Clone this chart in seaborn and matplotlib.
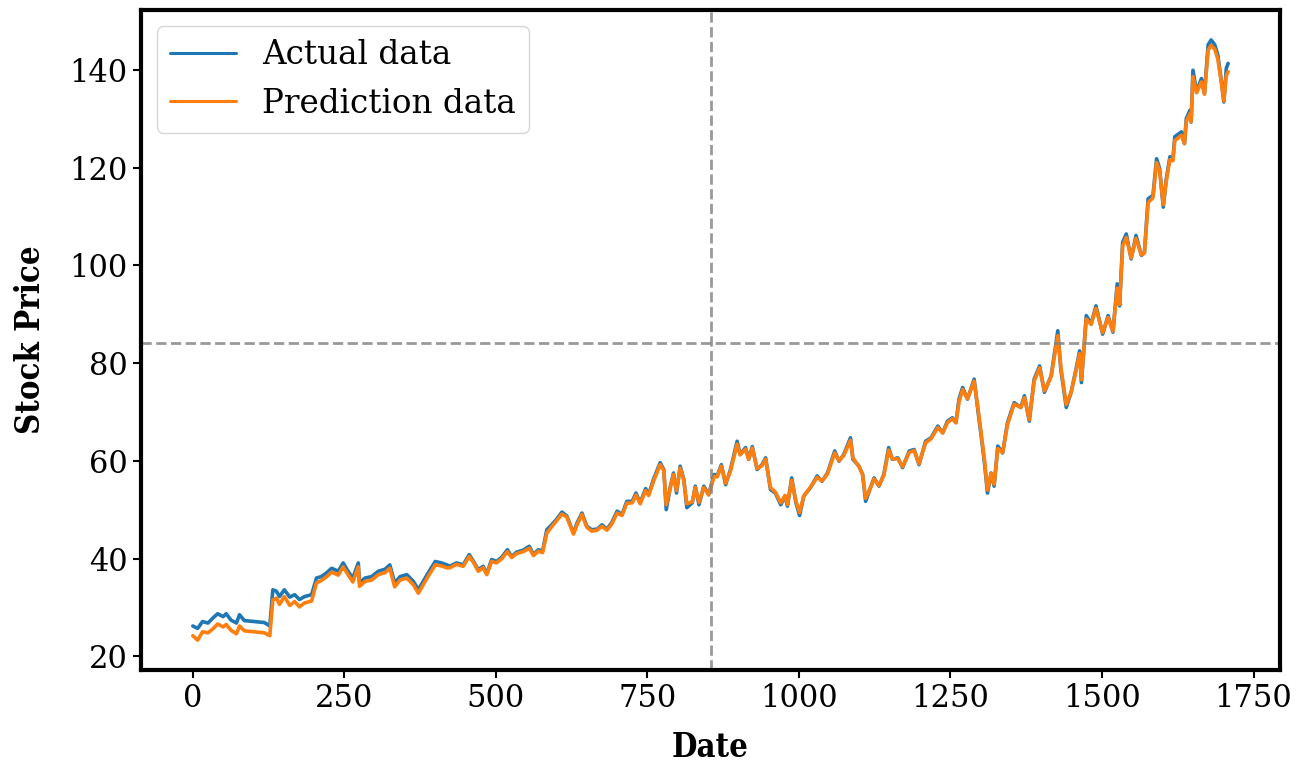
import numpy as np
import pandas as pd
import matplotlib
matplotlib.use("Agg")
import matplotlib.pyplot as plt
import seaborn as sns

# values (day index -> price)
days = [0, 8, 16, 25, 33, 41, 50, 55, 63, 72, 77, 85, 102, 118, 127,
        132, 138, 143, 151, 160, 168, 176, 184, 196,
        204, 212, 220, 229, 240, 248, 256, 264, 273, 275, 284, 295, 306, 317, 325, 333, 342, 353, 364, 372, 380, 388, 400, 410, 419,
        424, 435, 446, 456, 463, 471, 479, 485, 493, 501, 510, 519, 526, 534, 545, 555, 562, 570, 577, 584, 592, 600,
        609, 617, 628, 634, 642, 650, 658, 667, 675, 683, 691, 700, 708, 716, 725, 731, 738, 747, 752, 760,
        771, 777, 781, 788, 793, 798, 804, 810, 815, 824, 829, 835, 843, 851, 860, 865, 872, 879, 887, 898,
        903, 912, 917, 923, 931, 939, 945, 953, 961, 970, 977, 981, 988, 995, 1001, 1008, 1019, 1030,
        1038, 1047, 1059, 1066, 1074, 1085, 1089, 1099, 1105, 1110, 1118, 1124, 1132, 1140, 1148, 1154, 1163,
        1171, 1182, 1190, 1198, 1209, 1218, 1229, 1237, 1245, 1253, 1259, 1264,
        1270, 1278, 1289, 1295, 1300, 1306, 1311, 1317, 1322, 1328, 1336, 1344, 1355, 1366, 1372, 1380,
        1388, 1397, 1405, 1416, 1421, 1427, 1432, 1441, 1449, 1457, 1463, 1466, 1474, 1482, 1490,
        1501, 1510, 1518, 1525, 1529, 1534, 1540, 1548, 1556, 1565, 1570, 1576, 1584, 1590, 1595, 1601, 1606, 1612, 1617, 1620,
        1631, 1636, 1639, 1645, 1647, 1650, 1656, 1664, 1669, 1675, 1680, 1686, 1691, 1697, 1701, 1705, 1708]

actual = [26.2, 25.7, 27.1, 26.8, 27.8, 28.7, 28.1, 28.7, 27.4, 26.8, 28.5, 27.3, 27.1, 26.9, 26.2,
          33.6, 33.3, 32.2, 33.6, 32.1, 32.6, 31.6, 32.2, 32.6,
          36.0, 36.3, 37.0, 38.0, 37.4, 39.1, 37.4, 36.0, 39.1, 35.0, 36.0, 36.3, 37.4, 37.8, 38.7, 35.0, 36.3, 36.7, 35.3, 33.6, 35.3, 37.0, 39.4, 39.1, 38.7,
          38.4, 39.1, 38.7, 40.8, 39.4, 37.7, 38.4, 36.9, 39.8, 39.4, 40.3, 41.8, 40.4, 41.3, 41.7, 42.5, 40.8, 41.8, 41.5, 45.9, 46.9, 48.0,
          49.5, 48.7, 45.2, 47.3, 49.3, 46.6, 45.9, 46.0, 46.9, 46.0, 47.3, 49.7, 49.0, 51.7, 51.7, 53.4, 51.4, 54.3, 53.1, 56.2,
          59.6, 58.2, 50.0, 54.8, 57.5, 53.4, 58.9, 56.2, 50.4, 51.4, 54.8, 51.0, 54.8, 53.1, 57.2, 56.9, 59.2, 55.1, 58.2, 64.0,
          61.3, 62.7, 60.3, 62.9, 58.2, 59.2, 60.6, 54.1, 53.4, 51.0, 52.8, 50.7, 56.5, 51.4, 48.8, 52.8, 54.5, 56.9,
          55.8, 57.5, 62.0, 59.9, 61.3, 64.7, 60.3, 58.9, 57.2, 51.7, 54.5, 56.5, 54.8, 57.2, 62.7, 60.3, 60.6,
          58.6, 62.0, 62.3, 59.2, 64.0, 64.7, 67.1, 65.7, 68.1, 68.8, 67.8, 72.6,
          75.0, 72.6, 76.7, 70.5, 65.7, 59.6, 53.4, 57.5, 54.8, 63.0, 61.6, 67.8, 71.9, 70.9, 73.3, 68.1,
          76.7, 79.4, 74.0, 77.4, 81.5, 86.6, 78.7, 70.9, 74.0, 78.7, 82.5, 76.0, 89.7, 88.0, 91.7,
          85.9, 89.7, 86.3, 96.2, 91.7, 104.7, 106.4, 101.3, 106.1, 102.0, 102.7, 113.6, 114.3, 121.8, 119.8, 111.9, 117.7, 122.2, 121.8, 126.3,
          127.3, 124.9, 130.0, 131.7, 129.3, 139.9, 135.5, 138.2, 135.1, 145.1, 146.1, 145.1, 143.0, 137.5, 133.4, 140.3, 141.3]

predicted = [24.2, 23.3, 25.0, 24.8, 25.6, 26.6, 26.0, 26.5, 25.3, 24.6, 26.2, 25.2, 25.0, 24.8, 24.2,
             31.5, 31.9, 30.6, 32.2, 30.4, 31.2, 30.1, 30.9, 31.3,
             35.0, 35.5, 36.2, 37.2, 36.6, 38.3, 36.7, 35.2, 38.3, 34.3, 35.3, 35.6, 36.7, 37.1, 38.0, 34.2, 35.6, 36.0, 34.6, 32.9, 34.6, 36.3, 38.7, 38.5, 38.1,
             38.1, 38.8, 38.4, 40.4, 39.2, 37.4, 38.1, 36.7, 39.4, 39.1, 40.0, 41.4, 40.2, 41.0, 41.4, 42.1, 40.6, 41.5, 41.2, 45.2, 46.5, 47.7,
             49.1, 48.5, 45.0, 46.9, 49.0, 46.4, 45.6, 45.8, 46.6, 45.8, 47.0, 49.3, 48.8, 51.3, 51.4, 53.0, 51.2, 53.9, 52.9, 55.8,
             59.2, 58.0, 51.0, 54.6, 57.2, 53.9, 58.5, 56.0, 51.2, 51.6, 54.5, 51.5, 54.5, 53.0, 56.8, 56.7, 58.9, 55.4, 57.9, 63.4,
             61.2, 62.4, 60.3, 62.6, 58.4, 59.0, 60.3, 54.5, 53.6, 51.4, 52.9, 51.0, 56.0, 51.7, 49.4, 52.8, 54.6, 56.6,
             55.9, 57.3, 61.6, 60.0, 61.1, 64.2, 60.6, 58.8, 57.2, 52.3, 54.5, 56.3, 54.9, 57.0, 62.2, 60.4, 60.4,
             58.8, 61.7, 62.1, 59.4, 63.7, 64.5, 66.8, 65.7, 67.8, 68.6, 67.8, 72.0,
             74.6, 72.7, 76.3, 71.0, 66.2, 60.2, 54.0, 57.4, 55.2, 62.5, 61.7, 67.4, 71.6, 70.9, 72.9, 68.4,
             76.3, 79.0, 74.3, 77.2, 81.0, 85.6, 79.2, 71.5, 74.0, 78.4, 81.9, 76.6, 89.0, 87.9, 91.2,
             86.2, 89.3, 86.5, 95.3, 92.0, 103.9, 105.7, 101.5, 105.5, 102.1, 102.5, 112.8, 113.8, 121.0, 119.4, 112.4, 117.2, 121.6, 121.4, 125.5,
             126.6, 124.9, 129.4, 131.0, 129.4, 138.6, 135.3, 137.5, 135.0, 144.0, 145.0, 144.2, 142.2, 137.3, 133.6, 138.8, 139.6]

cross_x = 855
cross_y = 84

df = pd.DataFrame({'Date': days, 'Actual data': actual, 'Prediction data': predicted})
df = df.melt(id_vars='Date', var_name='series', value_name='Stock Price')

sns.set_style('ticks')
plt.rcParams['font.family'] = ['DejaVu Serif']
plt.rcParams['text.color'] = 'black'
plt.rcParams['axes.labelcolor'] = 'black'
plt.rcParams['xtick.color'] = 'black'
plt.rcParams['ytick.color'] = 'black'
plt.rcParams['axes.linewidth'] = 3
plt.rcParams['xtick.major.width'] = 1.5
plt.rcParams['ytick.major.width'] = 1.5
plt.rcParams['xtick.major.size'] = 6
plt.rcParams['ytick.major.size'] = 6

fig, ax = plt.subplots(figsize=(13.06, 7.65), dpi=100)
fig.subplots_adjust(left=0.108, right=0.980, top=0.987, bottom=0.124)

sns.lineplot(ax=ax, data=df, x='Date', y='Stock Price', hue='series',
             palette=['#1f77b4', '#ff7f0e'], linewidth=2.6)

ax.axvline(cross_x, color='gray', linestyle='--', linewidth=2, alpha=0.8)
ax.axhline(cross_y, color='gray', linestyle='--', linewidth=2, alpha=0.8)

for s in ax.spines.values():
    s.set_visible(True)
    s.set_color('black')
    s.set_linewidth(3)

ax.set_xticks([0, 250, 500, 750, 1000, 1250, 1500, 1750])
ax.set_yticks([20, 40, 60, 80, 100, 120, 140])
ax.tick_params(labelsize=22)
ax.set_xlabel('Date', fontsize=23.5, fontweight='bold', fontstretch='condensed', labelpad=12)
ax.set_ylabel('Stock Price', fontsize=23.5, fontweight='bold', fontstretch='condensed', labelpad=16)

leg = ax.legend(loc='upper left', fontsize=23.5, title=None, frameon=True)
for line in leg.get_lines():
    line.set_linewidth(2.2)

plt.savefig('out.png', dpi=100)
